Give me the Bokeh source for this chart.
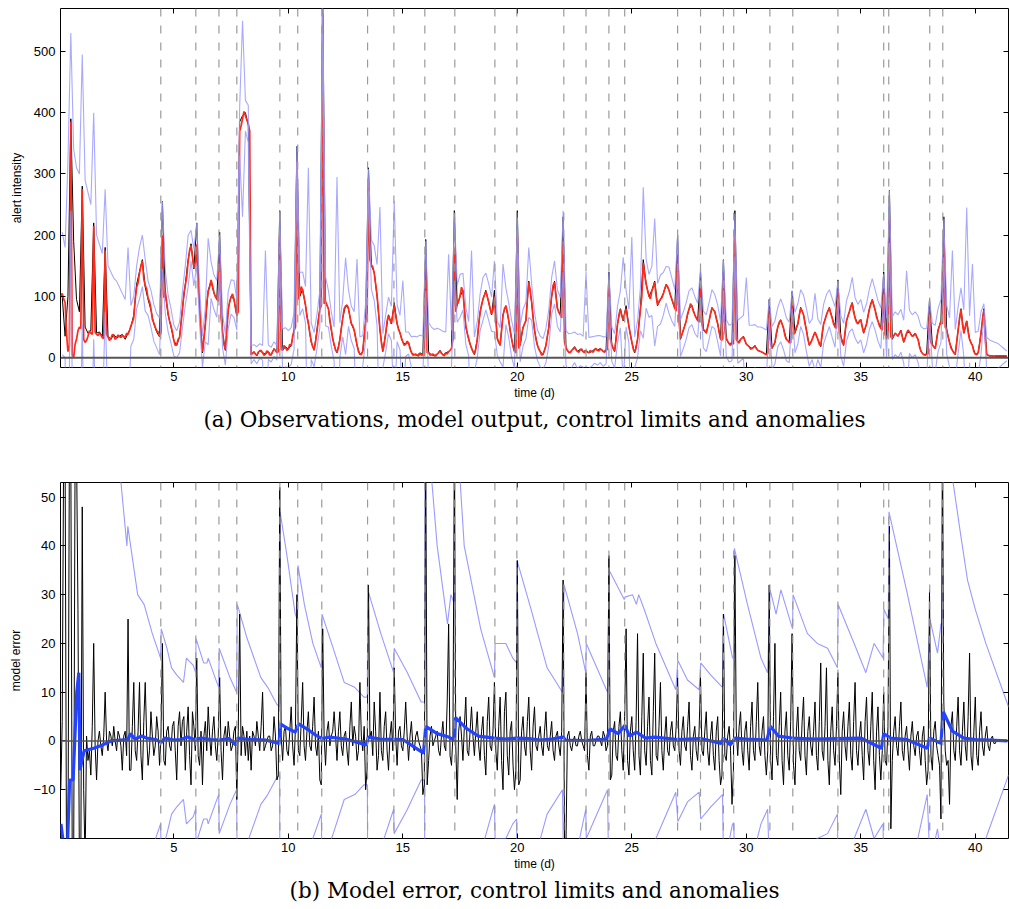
import numpy as np
from bokeh.plotting import figure
from bokeh.models import Span, LinearAxis, FixedTicker, Title
from bokeh.layouts import column
from bokeh.embed import file_html
from bokeh.resources import INLINE

# ---------------------------------------------------------------------------
# Panel (a): observed alert intensity, 3-hourly samples (0.125 d), one row per day
# ---------------------------------------------------------------------------
observed = [
    100, 35, 100, 390, 190, 95, 75, 280,
    50, 40, 45, 220, 40, 42, 35, 180,
    35, 30, 38, 32, 35, 38, 30, 40,
    50, 70, 120, 140, 160, 115, 95, 78,
    55, 42, 34, 255, 105, 70, 50, 28,
    20, 34, 80, 120, 160, 186, 145, 220,
    80, 8, 55, 110, 125, 105, 95, 205,
    40, 12, 80, 100, 95, 68, 385, 395,
    400, 380, 5, 10, 3, 12, 8, 6,
    10, 4, 15, 8, 240, 12, 18, 14,
    20, 45, 345, 100, 112, 85, 55, 25,
    12, 45, 80, 600, 90, 80, 45, 20,
    8, 30, 65, 85, 80, 55, 45, 20,
    5, 10, 60, 310, 150, 140, 100, 45,
    10, 40, 70, 55, 90, 55, 40, 25,
    22, 25, 8, 5, 4, 8, 5, 193,
    8, 5, 3, 6, 12, 4, 8, 10,
    15, 240, 85, 100, 110, 50, 30, 15,
    5, 30, 75, 95, 110, 90, 70, 110,
    30, 20, 70, 85, 60, 30, 10, 240,
    20, 50, 60, 125, 90, 45, 20, 10,
    5, 20, 50, 100, 125, 80, 70, 230,
    15, 8, 12, 18, 10, 14, 10, 12,
    8, 10, 14, 12, 15, 10, 12, 140,
    20, 10, 55, 80, 60, 85, 50, 25,
    8, 30, 80, 160, 120, 100, 110, 125,
    85, 95, 105, 120, 110, 95, 80, 200,
    30, 45, 60, 80, 85, 70, 60, 140,
    45, 40, 60, 82, 75, 55, 30, 160,
    30, 22, 25, 240, 25, 30, 35, 22,
    18, 15, 20, 12, 10, 8, 5, 95,
    15, 25, 50, 62, 48, 30, 25, 108,
    40, 55, 82, 70, 45, 20, 30, 42,
    30, 18, 55, 70, 82, 65, 50, 127,
    35, 20, 60, 75, 90, 65, 55, 62,
    40, 55, 80, 95, 78, 60, 48, 140,
    30, 273, 30, 40, 35, 45, 25, 40,
    42, 35, 40, 30, 10, 5, 6, 95,
    20, 15, 45, 60, 230, 45, 25, 12,
    5, 45, 80, 40, 60, 30, 20, 5,
    8, 40, 80, 5, 3, 3, 2, 2,
    2, 2, 2,
]

# model output, 1.5-hourly samples (1/16 d), one row per day
model_out = [
    100, 105, 96, 90, 40, 10, 20, 385, 5, 0, 22, 30, 44, 50, 48, 275,
    30, 25, 28, 35, 44, 40, 38, 215, 42, 38, 36, 40, 37, 33, 31, 175,
    38, 34, 28, 31, 38, 36, 30, 33, 37, 35, 33, 36, 35, 32, 40, 38,
    44, 52, 58, 65, 95, 115, 122, 138, 150, 158, 128, 118, 112, 97, 92, 80,
    62, 57, 50, 44, 42, 35, 40, 200, 98, 108, 90, 72, 60, 52, 42, 28,
    20, 22, 30, 33, 55, 78, 105, 118, 132, 158, 175, 183, 165, 147, 150, 185,
    120, 84, 40, 10, 30, 54, 90, 108, 115, 127, 118, 107, 100, 96, 92, 170,
    65, 44, 22, 13, 45, 78, 92, 99, 104, 96, 82, 70, 75, 370, 378, 390,
    402, 395, 388, 382, 370, 5, 7, 9, 6, 4, 9, 11, 12, 8, 4, 6,
    11, 9, 4, 5, 10, 14, 12, 8, 10, 200, 14, 12, 20, 17, 12, 14,
    22, 19, 35, 44, 50, 320, 95, 104, 116, 110, 98, 86, 66, 57, 40, 27,
    18, 13, 25, 43, 62, 79, 85, 560, 88, 92, 86, 80, 60, 47, 30, 22,
    12, 9, 16, 29, 48, 64, 80, 84, 86, 81, 68, 56, 52, 45, 33, 21,
    10, 6, 5, 11, 35, 59, 70, 290, 160, 152, 148, 138, 120, 102, 75, 47,
    25, 11, 22, 39, 60, 69, 62, 56, 70, 85, 68, 56, 46, 41, 32, 26,
    20, 22, 27, 24, 15, 9, 4, 5, 6, 4, 3, 7, 4, 5, 4, 150,
    8, 9, 4, 5, 6, 4, 3, 6, 8, 11, 7, 5, 3, 8, 6, 10,
    12, 15, 30, 180, 75, 88, 92, 101, 115, 108, 80, 52, 40, 31, 22, 16,
    10, 6, 14, 29, 55, 74, 86, 96, 102, 108, 100, 91, 80, 71, 78, 100,
    60, 32, 25, 21, 45, 69, 80, 84, 75, 61, 44, 31, 18, 11, 8, 200,
    15, 23, 38, 49, 55, 61, 95, 123, 110, 91, 65, 46, 30, 21, 14, 10,
    4, 6, 12, 20, 35, 49, 80, 101, 118, 123, 100, 81, 74, 70, 65, 190,
    25, 16, 12, 9, 8, 12, 14, 17, 13, 10, 9, 13, 14, 10, 8, 12,
    9, 8, 12, 10, 9, 13, 15, 12, 11, 14, 13, 10, 9, 12, 14, 120,
    30, 22, 15, 11, 30, 54, 70, 79, 68, 61, 72, 80, 64, 51, 38, 26,
    14, 9, 16, 30, 55, 79, 100, 155, 135, 121, 110, 101, 96, 109, 115, 123,
    100, 86, 92, 95, 98, 104, 112, 119, 116, 110, 102, 95, 88, 81, 76, 170,
    60, 32, 38, 45, 52, 60, 72, 79, 88, 84, 76, 70, 65, 61, 58, 120,
    55, 46, 44, 40, 50, 60, 72, 81, 78, 75, 64, 56, 42, 31, 28, 135,
    45, 32, 27, 23, 20, 25, 22, 200, 30, 26, 24, 30, 32, 34, 28, 22,
    20, 18, 14, 15, 17, 19, 15, 12, 11, 10, 9, 8, 6, 5, 7, 80,
    22, 16, 20, 25, 40, 50, 58, 61, 55, 48, 36, 30, 28, 25, 24, 95,
    38, 41, 50, 55, 70, 81, 76, 70, 56, 45, 30, 21, 24, 30, 36, 42,
    36, 30, 22, 19, 40, 55, 62, 70, 76, 81, 72, 65, 55, 50, 48, 110,
    42, 36, 25, 21, 42, 60, 68, 75, 84, 89, 74, 65, 58, 55, 60, 62,
    50, 41, 48, 55, 68, 79, 88, 94, 86, 78, 66, 60, 52, 48, 45, 120,
    38, 32, 36, 230, 34, 32, 36, 40, 38, 35, 40, 44, 34, 26, 32, 40,
    45, 42, 38, 35, 36, 40, 34, 30, 18, 11, 7, 5, 4, 6, 6, 80,
    25, 21, 18, 15, 30, 45, 52, 60, 55, 195, 50, 46, 34, 25, 16, 12,
    8, 6, 25, 45, 65, 79, 55, 40, 50, 60, 42, 30, 24, 20, 10, 6,
    5, 8, 22, 40, 62, 78, 30, 5, 4, 3, 3, 3, 2, 3, 3, 3,
    3, 3, 3, 3, 3, 3,
]

# half-width of the control band around the model output (0.125 d samples)
limit_band = [
    100, 90, 310, 145, 340, 280, 250, 220,
    265, 235, 210, 185, 162, 145, 137, 100,
    116, 109, 94, 92, 80, 69, 63, 142,
    33, 35, 35, 42, 42, 42, 28, 30,
    30, 28, 30, 55, 35, 30, 28, 25,
    22, 25, 30, 32, 42, 25, 30, 35,
    30, 25, 28, 87, 30, 28, 30, 30,
    28, 25, 30, 28, 30, 25, 40, 160,
    25, 30, 15, 12, 14, 12, 12, 169,
    12, 12, 12, 12, 40, 35, 32, 30,
    30, 30, 25, 35, 30, 30, 253, 30,
    28, 28, 30, 30, 40, 30, 28, 28,
    286, 28, 30, 79, 30, 28, 30, 140,
    28, 25, 30, 18, 40, 45, 50, 199,
    28, 30, 30, 28, 171, 30, 28, 100,
    20, 18, 25, 30, 30, 30, 30, 41,
    48, 45, 42, 42, 35, 38, 34, 159,
    30, 55, 30, 35, 30, 30, 28, 159,
    28, 30, 30, 35, 30, 30, 28, 58,
    28, 28, 84, 30, 28, 30, 28, 29,
    30, 30, 30, 57, 30, 28, 25, 25,
    25, 28, 30, 30, 35, 30, 28, 50,
    28, 30, 28, 25, 28, 26, 25, 128,
    25, 24, 22, 24, 22, 24, 22, 20,
    28, 28, 30, 30, 103, 30, 28, 171,
    25, 30, 35, 123, 40, 35, 40, 104,
    35, 40, 35, 30, 38, 35, 30, 30,
    30, 30, 30, 30, 30, 30, 28, 25,
    30, 30, 30, 30, 28, 30, 28, 25,
    30, 30, 30, 35, 35, 35, 35, 109,
    35, 38, 35, 38, 40, 40, 40, 15,
    35, 35, 32, 35, 35, 35, 33, 15,
    33, 33, 30, 32, 35, 35, 33, 63,
    33, 35, 32, 33, 30, 32, 33, 15,
    33, 35, 33, 33, 42, 33, 32, 33,
    33, 33, 33, 35, 33, 33, 33, 17,
    33, 43, 35, 35, 35, 35, 35, 102,
    35, 35, 35, 38, 40, 42, 42, 13,
    35, 38, 35, 35, 31, 40, 40, 163,
    40, 38, 35, 38, 185, 38, 133, 35,
    35, 35, 10, 28, 26, 24, 22, 20,
    16, 12, 8,
]

# ---------------------------------------------------------------------------
# Panel (b): model error, 1.5-hourly samples (1/16 d), one row per day
# ---------------------------------------------------------------------------
model_error = [
    -10, 4, 60, 60, -25, -25, 60, 60, -25, -25, 60, 60, 27, -25, -25, 48,
    -10, -25, 1, -4, -2, -7, 3, 20, -1, -8, 0, 2, -1, -3, 1, 10,
    0, -2, 2, 1, -1, 3, 0, -2, 2, 1, -1, -6, 1, 2, -3, 25,
    -6, -6, 3, 12, -2, -4, 2, 12, -3, -8, 4, 12, 1, -5, -2, 6,
    1, -3, -1, 5, 2, -5, 1, 20, -4, -5, 2, 3, -1, -2, 3, 4,
    -2, -8, 3, 6, -1, 4, 5, -6, 2, 7, -3, -9, 6, 3, -2, 17,
    -3, -5, 2, -9, 1, 4, -2, 7, 1, -3, 2, 5, -1, -4, 1, 13,
    -2, -8, 1, 3, -1, 4, 1, -2, -1, 2, 3, -12, 2, 26, -3, 3,
    1, -3, 2, -4, 1, -6, 2, 1, -1, 4, 1, -2, 3, 10, -2, -1,
    0, 1, 1, -2, -1, 5, 1, -8, -7, 52, 1, -4, 2, 3, -2, -3,
    2, 7, -1, -5, 3, 30, -2, -3, 4, 12, -1, -4, 2, 6, -1, -2,
    3, 9, -1, -3, 2, -8, -9, 23, 1, -5, 2, 4, -1, 1, 2, 6,
    1, -4, 2, 6, -1, -3, 1, 2, -2, -5, 3, 8, -1, 3, 1, -4,
    -2, 12, 1, -2, 3, -10, -6, 32, 1, 2, -3, 8, 2, -6, -3, 10,
    -2, -4, 3, 6, -2, -6, 1, 4, -2, 15, 1, -5, 2, 3, -1, -2,
    2, 8, 1, -4, 1, 4, -1, -2, 1, 2, 0, -1, -2, -11, -9, 60,
    -9, -4, 1, 3, -1, 0, 1, 2, -2, -3, 1, 4, -1, -2, 8, 24,
    -3, -5, 1, 60, -1, -12, 2, 5, 1, -4, 3, 9, -2, -3, 2, 7,
    1, -3, 2, 6, -1, -4, 2, 5, -3, -7, 4, 9, -1, -2, 2, 12,
    -2, -6, 3, 9, -4, -10, 6, 10, -3, -7, 2, 4, -5, -10, -6, 37,
    -9, -8, 2, 5, -1, -3, 4, 9, -2, -6, 3, 7, -1, -2, 1, 3,
    -1, -3, 2, 6, -1, -2, 1, 4, -2, -4, 1, 2, -1, -3, 2, 33,
    -21, -21, 1, 2, -1, -2, 0, 1, -1, -1, 1, 2, 0, -1, -2, 14,
    -3, -6, 1, 2, -1, -1, 0, 1, 1, 0, -1, 2, 1, -2, -1, 38,
    -8, -7, 2, 4, -3, -4, 3, 6, -2, -6, 5, 23, -4, -7, 2, 5,
    -2, -6, 4, 22, -3, -7, 5, 18, -2, -5, 3, 9, -4, -7, 6, 18,
    -3, -4, 3, 12, -2, -6, 1, 5, -2, -3, 2, 4, -1, -2, 3, 13,
    -2, -5, 2, 5, -1, -2, 3, 8, -3, -6, 1, 3, -2, -4, 2, 13,
    -2, -3, 2, 6, -2, -5, 1, 4, -3, -6, 2, 5, -4, -9, -7, 26,
    -3, -4, 1, 3, -2, -13, -6, 38, 2, -3, 3, 6, -2, -5, 2, 4,
    -2, -6, 3, 8, -2, -4, 4, 12, -1, -3, 2, 5, -3, -7, -2, 32,
    -4, -8, 5, 20, -3, -5, 3, 10, -4, -9, 2, 6, -3, -6, 4, 22,
    -5, -9, 2, 7, -2, -4, 4, 9, -3, -7, 2, 5, -1, -3, 2, 8,
    -3, -6, 4, 16, -2, -4, 3, 15, -4, -9, 2, 7, -2, -5, 3, 14,
    -4, -11, 2, 6, -1, -4, 3, 8, -3, -6, 4, 12, -2, -5, 1, 4,
    -3, -8, 4, 9, -2, -5, 3, 10, -4, -10, 2, 7, -3, -8, -2, 10,
    -4, -5, 3, 44, -18, -4, 2, 5, -1, -3, 3, 8, -2, -4, 1, 3,
    -2, -6, 1, 4, -1, -3, 1, 2, -2, -5, 1, 3, -4, -9, -6, 31,
    -3, -6, 2, 4, -1, -3, -5, -16, 60, 8, -2, -5, -4, -13, 3, 6,
    -2, -4, 3, 9, -2, -5, 2, 8, -1, -4, 5, 18, -3, -6, 2, 9,
    -3, -5, 2, 6, -1, -3, 1, 3, -1, -2, 0.5, 1, -0.5, -0.5, 0.2, 0,
    0, 0, 0, 0, 0, 0,
]

# running mean of the model error
mean_t = [0.07, 0.2, 0.35, 0.45, 0.6, 0.76, 0.85, 0.9, 1.08, 1.5, 1.8, 2.25, 3.0,
          3.1, 3.3, 3.6, 3.8, 4.2, 4.45, 4.6, 5.0, 5.3, 5.6, 5.9, 6.2, 6.6,
          7.0, 7.4, 7.7, 7.8, 8.3, 9.0, 9.6, 9.65, 10.0, 10.3, 10.45, 10.8,
          11.2, 11.46, 11.8, 12.5, 13.4, 13.5, 14.0, 15.0, 15.9, 16.0, 16.5,
          17.0, 17.25, 17.3, 17.8, 18.3, 19.0, 19.5, 20.0, 20.5, 21.0, 21.5,
          22.0, 22.1, 23.0, 23.9, 24.05, 24.4, 24.7, 24.9, 25.2, 25.6, 26.0,
          27.0, 28.0, 28.9, 29.0, 29.3, 29.5, 30.0, 30.9, 31.05, 31.4, 32.0,
          33.0, 34.0, 35.0, 35.9, 36.0, 36.3, 37.0, 37.9, 38.0, 38.5, 38.6,
          39.0, 39.5, 40.0, 41.4]
mean_err = [-17, -22, -22, -8, -8, 10, 14, -6, -2, -1.5, -1, 0, 0.3,
            1.5, 0.4, 1.0, 0.6, 0.3, -0.3, 0.6, 0.2, 0.3, 0.8, 0.3, 0.6, 0.3,
            0.2, 0.5, -0.8, 0.6, 0.3, 0.2, -0.5, 3.5, 2.5, 1.8, 3.5, 2.5,
            1.2, 0.5, 0.8, 0.4, -0.8, 0.8, 0.4, 0.3, -2.5, 3.0, 1.5,
            0.8, 0.2, 4.8, 2.5, 1.0, 0.6, 0.4, 0.6, 0.5, 0.2, 0.4,
            0.8, 0.2, 0.1, 0.4, 2.5, 1.5, 3.2, 1.0, 1.8, 0.6, 0.8,
            0.3, 0.5, -0.5, 0.6, -0.8, 0.6, 0.4, 0.2, 3.0, 1.0, 0.6,
            0.4, 0.5, 0.6, -1.5, 1.5, 0.6, 0.3, -1.5, 0.6, -0.5, 6.0,
            2.0, 0.6, 0.3, 0.0]

# control-limit half-width for the model error
ctrl_t = [0.1, 2.69, 2.95, 2.99, 3.42, 3.7, 4.06, 4.42, 4.45, 4.7, 4.9, 5.13,
          5.42, 5.55, 5.85, 5.95, 5.97, 6.3, 6.45, 6.5, 6.8, 6.96, 6.98, 7.45,
          7.74, 7.77, 8.2, 8.8, 9.1, 9.5, 9.62, 9.64, 9.94, 10.3, 10.4, 10.42,
          10.7, 11.07, 11.44, 11.47, 11.96, 12.44, 12.9, 13.3, 13.45, 13.47,
          14.04, 14.6, 14.62, 15.2, 15.8, 15.95, 15.97, 16.5, 16.95, 17.1,
          17.26, 17.28, 17.68, 18.4, 19.0, 19.03, 19.5, 19.8, 19.97, 19.99,
          20.6, 21.3, 21.97, 22.04, 22.63, 22.99, 23.01, 23.94, 24.01, 24.67,
          24.7, 25.03, 25.2, 25.3, 25.54, 26.05, 26.6, 26.92, 27.01, 27.43,
          27.94, 28.01, 28.45, 28.96, 29.01, 29.4, 29.46, 29.48, 30.05, 30.64,
          30.93, 31.04, 31.3, 31.51, 32.02, 32.04, 32.67, 33.1, 33.55, 33.98,
          34.01, 34.71, 35.22, 35.58, 35.97, 36.01, 36.2, 36.23, 37.04, 37.9,
          38.02, 38.35, 38.5, 38.58, 38.6, 39.0, 39.37, 39.66, 40.0, 40.46,
          41.45]
ctrl_hw = [80, 53, 40, 44, 30, 28, 22, 17, 23, 19, 15, 13.5,
           12, 17, 15.5, 14, 21, 16, 16, 17, 13, 11, 19, 13,
           10, 28, 21, 13, 11, 7.5, 7, 47, 38, 26, 25, 36,
           28, 20, 15, 26, 19, 12, 11, 9, 9, 31,
           22, 14, 19, 14, 8, 8, 70, 40, 24, 30,
           28, 70, 40, 23, 13, 20, 20, 17, 16, 37,
           27, 15, 10, 32, 22, 14, 20, 10, 35, 29,
           29.5, 30, 28, 30, 27, 20, 14, 10.5, 16.5, 12.5,
           10.5, 16, 13.5, 11, 26, 17, 17, 39.5, 28, 17,
           14, 31, 26, 31, 23, 30, 22, 20, 19, 15,
           28, 20, 14, 20, 17, 27, 25, 47, 30, 11,
           25, 18, 24, 24, 75, 54, 42, 33, 27, 20,
           7]

anomaly_days = [4.43, 5.96, 6.97, 7.75, 9.63, 10.41, 11.46, 13.46, 14.61, 15.96,
                17.27, 19.02, 19.98, 22.03, 23.0, 24.0, 24.69, 27.0, 28.0, 29.0,
                29.45, 31.03, 32.03, 34.0, 36.0, 36.22, 38.01, 38.58]

x_ticks = [5, 10, 15, 20, 25, 30, 35, 40]
top_ticks = [0, 100, 200, 300, 400, 500]
bottom_ticks = [-10, 0, 10, 20, 30, 40, 50]

# ---------------------------------------------------------------------------
t_obs = np.arange(1, len(observed) + 1) * 0.125
t_model = np.arange(1, len(model_out) + 1) / 16.0
t_err = np.arange(1, len(model_error) + 1) / 16.0
model_arr = np.array(model_out, dtype=float)
band_arr = np.array(limit_band, dtype=float)
# control limits sit on the 3-hourly samples of the model output
model_3h = model_arr[1::2]
upper_lim = model_3h + band_arr
lower_lim = model_3h - band_arr
hw = np.array(ctrl_hw, dtype=float)

SANS = "Liberation Sans"
LIMIT_COLOR = "#9a9aff"


def make_panel(y_range, yticks, ylabel, frame_h, top_border, bottom_border,
               caption_text, overrides=None):
    p = figure(frame_width=948, frame_height=frame_h,
               x_range=(0.05, 41.45), y_range=y_range,
               output_backend="svg", toolbar_location=None,
               min_border_left=60, min_border_right=2,
               min_border_top=top_border, min_border_bottom=bottom_border)
    p.outline_line_color = "black"
    p.outline_line_width = 1
    p.xgrid.visible = False
    p.ygrid.visible = False
    xb = p.below[0]
    yl = p.left[0]
    for ax in (xb, yl):
        ax.major_tick_in = 5
        ax.major_tick_out = 0
        ax.minor_tick_line_color = None
        ax.axis_line_color = None
        ax.major_label_text_font = SANS
        ax.major_label_text_font_size = "13px"
        ax.major_label_text_color = "black"
        ax.axis_label_text_font = SANS
        ax.axis_label_text_font_size = "12px"
        ax.axis_label_text_font_style = "normal"
        ax.axis_label_text_color = "black"
    xb.ticker = FixedTicker(ticks=x_ticks)
    yl.ticker = FixedTicker(ticks=yticks)
    xb.major_label_standoff = 4
    yl.major_label_standoff = 5
    xb.axis_label_standoff = 2
    yl.axis_label_standoff = 7
    xb.axis_label = "time (d)"
    yl.axis_label = ylabel
    if overrides:
        yl.major_label_overrides = overrides
    # tick marks on the top and right edges of the box
    top = LinearAxis(ticker=FixedTicker(ticks=x_ticks))
    right = LinearAxis(ticker=FixedTicker(ticks=yticks))
    for ax in (top, right):
        ax.major_tick_in = 5
        ax.major_tick_out = 0
        ax.minor_tick_line_color = None
        ax.axis_line_color = None
        ax.major_label_text_color = None
        ax.major_label_text_font_size = "0px"
        ax.major_label_standoff = 0
    p.add_layout(top, "above")
    p.add_layout(right, "right")
    for d in anomaly_days:
        p.add_layout(Span(location=d, dimension="height", line_color="#9a9a9a",
                          line_width=1.2, line_dash="8 9"))
    cap = Title(text=caption_text, align="center", text_font="DejaVu Serif",
                text_font_size="21.5px", text_font_style="normal",
                text_color="black", standoff=4)
    p.add_layout(cap, "below")
    return p


# (a) observations, model output, control limits
p1 = make_panel((-16, 570), top_ticks, "alert intensity", 359, 8, 88,
                "(a) Observations, model output, control limits and anomalies")
p1.add_layout(Span(location=0, dimension="width", line_color="#555555", line_width=2))
p1.line(t_obs, observed, line_color="black", line_width=1.0)
p1.line(t_model, model_out, line_color="#ff2a1a", line_width=1.7)
p1.line(t_obs, upper_lim, line_color=LIMIT_COLOR, line_width=1.1, line_alpha=0.85)
p1.line(t_obs, lower_lim, line_color=LIMIT_COLOR, line_width=1.1, line_alpha=0.85)

# (b) model error, control limits
p2 = make_panel((-20, 53), bottom_ticks, "model error", 356, 27, 71,
                "(b) Model error, control limits and anomalies",
                overrides={-10: "\u221210"})
p2.add_layout(Span(location=0, dimension="width", line_color="#555555", line_width=1.5))
p2.line(ctrl_t, hw, line_color=LIMIT_COLOR, line_width=1.1)
p2.line(ctrl_t, -hw, line_color=LIMIT_COLOR, line_width=1.1)
p2.line(t_err, model_error, line_color="black", line_width=1.0)
p2.line(mean_t, mean_err, line_color="#2343ff", line_width=3.2)

layout = column(p1, p2, spacing=0)
open("out.html", "w").write(file_html(layout, INLINE))
